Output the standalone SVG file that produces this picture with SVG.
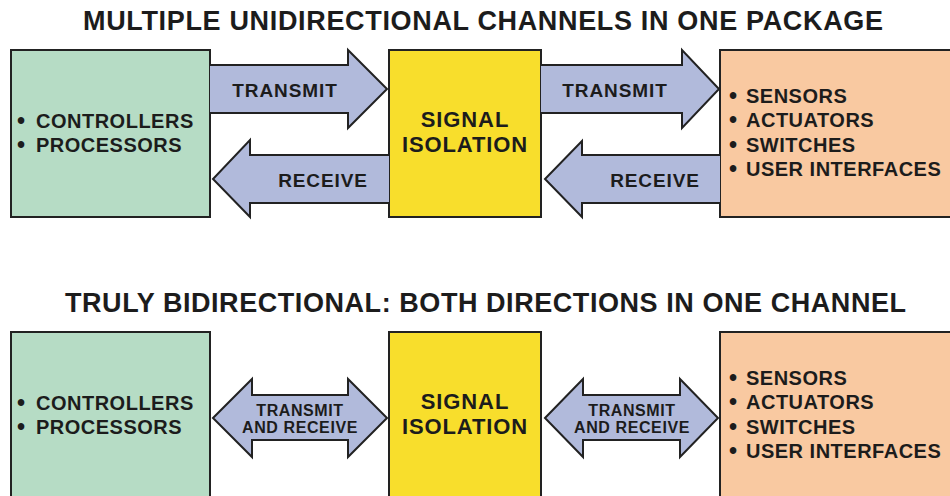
<svg xmlns="http://www.w3.org/2000/svg" width="950" height="496" viewBox="0 0 950 496">
<style>
text{font-family:"Liberation Sans",Arial,Helvetica,sans-serif;font-weight:bold;fill:#1c1c1c}
.title{font-size:27px}
.lbl{font-size:20px;letter-spacing:0.5px}
.bul{font-size:23px}
.sig{font-size:22px;letter-spacing:0.9px;text-anchor:middle}
.arr{font-size:19px;letter-spacing:0.9px;text-anchor:middle}
.sm{font-size:16px;letter-spacing:0.6px;text-anchor:middle}
.box{stroke:#222;stroke-width:2}
.green{fill:#b6dcc5}
.yellow{fill:#f8de2c}
.orange{fill:#f9c9a1}
.arrow{fill:#b1badb;stroke:#222;stroke-width:2;stroke-linejoin:miter}
</style>
<rect width="950" height="496" fill="#ffffff"/>
<text class="title" x="83" y="30" textLength="800" lengthAdjust="spacing">MULTIPLE UNIDIRECTIONAL CHANNELS IN ONE PACKAGE</text>
<text class="title" x="65" y="312" textLength="841" lengthAdjust="spacing">TRULY BIDIRECTIONAL: BOTH DIRECTIONS IN ONE CHANNEL</text>

<g id="top-controllers">
<rect class="box green" x="11" y="50" width="199" height="167"/>
<text class="lbl"><tspan class="bul" x="17" y="129">•</tspan><tspan x="36" y="128">CONTROLLERS</tspan><tspan class="bul" x="17" y="153">•</tspan><tspan x="36" y="152">PROCESSORS</tspan></text>
</g>
<g id="top-isolation">
<rect class="box yellow" x="389" y="50" width="152" height="167"/>
<text class="sig"><tspan x="465" y="127">SIGNAL</tspan><tspan x="465" y="152">ISOLATION</tspan></text>
</g>
<g id="top-sensors">
<rect class="box orange" x="720" y="50" width="240" height="167"/>
<text class="lbl"><tspan class="bul" x="729" y="104">•</tspan><tspan x="746" y="103">SENSORS</tspan><tspan class="bul" x="729" y="128">•</tspan><tspan x="746" y="127">ACTUATORS</tspan><tspan class="bul" x="729" y="153">•</tspan><tspan x="746" y="152">SWITCHES</tspan><tspan class="bul" x="729" y="177">•</tspan><tspan x="746" y="176">USER INTERFACES</tspan></text>
</g>

<g id="bottom-controllers">
<rect class="box green" x="11" y="332" width="199" height="200"/>
<text class="lbl"><tspan class="bul" x="17" y="411">•</tspan><tspan x="36" y="410">CONTROLLERS</tspan><tspan class="bul" x="17" y="435">•</tspan><tspan x="36" y="434">PROCESSORS</tspan></text>
</g>
<g id="bottom-isolation">
<rect class="box yellow" x="389" y="332" width="152" height="200"/>
<text class="sig"><tspan x="465" y="409">SIGNAL</tspan><tspan x="465" y="434">ISOLATION</tspan></text>
</g>
<g id="bottom-sensors">
<rect class="box orange" x="720" y="332" width="240" height="200"/>
<text class="lbl"><tspan class="bul" x="729" y="386">•</tspan><tspan x="746" y="385">SENSORS</tspan><tspan class="bul" x="729" y="410">•</tspan><tspan x="746" y="409">ACTUATORS</tspan><tspan class="bul" x="729" y="435">•</tspan><tspan x="746" y="434">SWITCHES</tspan><tspan class="bul" x="729" y="459">•</tspan><tspan x="746" y="458">USER INTERFACES</tspan></text>
</g>

<g id="connectors">
<path class="arrow" d="M210,65 L348,65 L348,50 L387,89 L348,128 L348,113 L210,113"/>
<text class="arr" x="285" y="97">TRANSMIT</text>
<path class="arrow" d="M389,155 L250,155 L250,140 L213,179 L250,217 L250,203 L389,203"/>
<text class="arr" x="323" y="187">RECEIVE</text>
<path class="arrow" d="M541,65 L682,65 L682,50 L719,89 L682,128 L682,113 L541,113"/>
<text class="arr" x="615" y="97">TRANSMIT</text>
<path class="arrow" d="M720,155 L582,155 L582,141 L545,179 L582,217 L582,203 L720,203"/>
<text class="arr" x="655" y="187">RECEIVE</text>
<path class="arrow" d="M213,418 L252,379 L252,395 L348,395 L348,379 L387,418 L348,457 L348,440 L252,440 L252,457 Z"/>
<text class="sm"><tspan x="300" y="416">TRANSMIT</tspan><tspan x="300" y="433">AND RECEIVE</tspan></text>
<path class="arrow" d="M545,418 L583,379 L583,395 L680,395 L680,379 L718,418 L680,457 L680,440 L583,440 L583,457 Z"/>
<text class="sm"><tspan x="632" y="416">TRANSMIT</tspan><tspan x="632" y="433">AND RECEIVE</tspan></text>
</g>
</svg>
